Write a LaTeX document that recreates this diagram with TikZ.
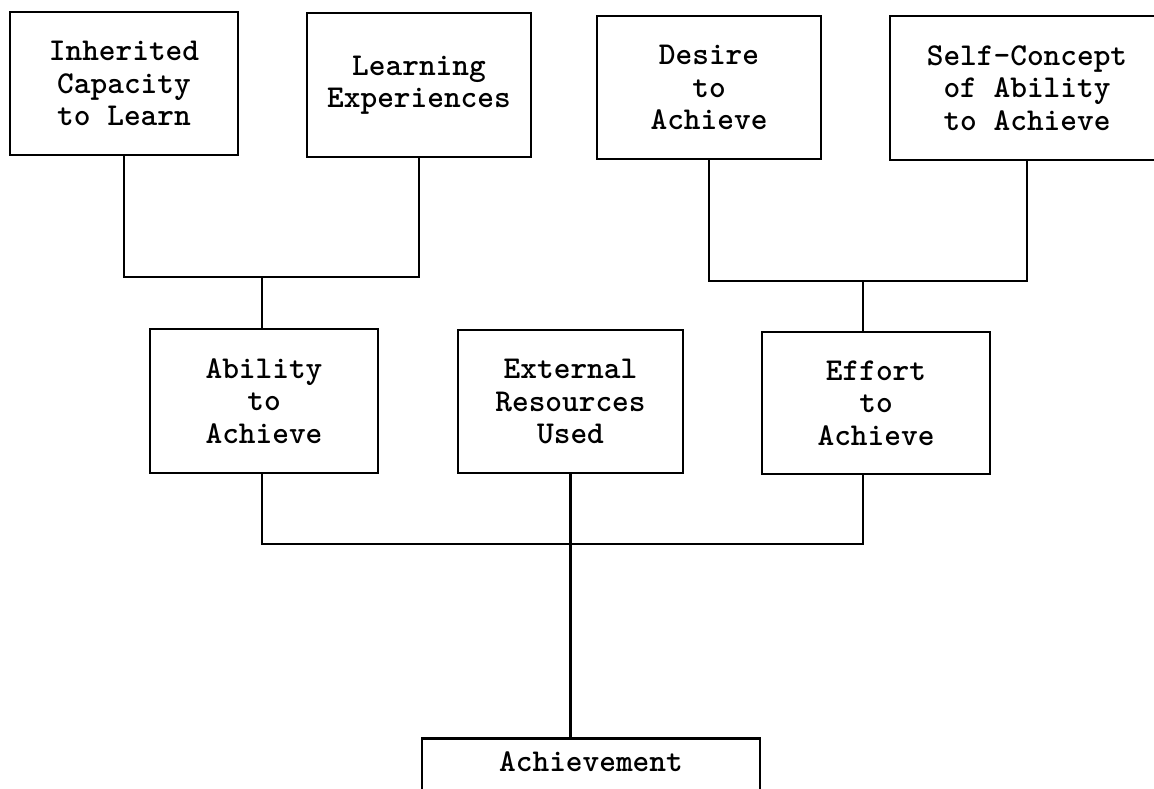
\documentclass[tikz,border=0pt]{standalone}
\usepackage{fontspec}
\begin{document}
\begin{tikzpicture}[x=0.5pt,y=-0.5pt]
	\tikzstyle{every node}+=[inner sep=0pt]
	\tikzstyle{box}=[draw=black, line width=1.3pt, rectangle, align=center, font=\ttfamily\bfseries\fontsize{15.9}{16.2}\selectfont, minimum width=114pt, minimum height=71.5pt]
	\tikzstyle{link}=[black, line width=1.3pt]
	\useasboundingbox (0,0) rectangle (1154,788);
	\clip (0,0) rectangle (1154,788);
	% top row
	\node [box] (inherited) at (124,83.5) {Inherited\\Capacity\\to Learn};
	\node [box, minimum width=112pt, minimum height=72pt] (learning) at (419,85) {Learning\\Experiences};
	\node [box, minimum width=112pt] (desire) at (709,87.5) {Desire\\to\\Achieve};
	\node [box, minimum width=137pt, minimum height=72pt] (selfconcept) at (1027,88) {Self-Concept\\of Ability\\to Achieve};
	% middle row
	\node [box, minimum height=72pt] (ability) at (264,401) {Ability\\to\\Achieve};
	\node [box, minimum width=112.5pt] (external) at (570.5,401.5) {External\\Resources\\Used};
	\node [box, minimum height=71pt] (effort) at (876,403) {Effort\\to\\Achieve};
	% bottom
	\node [box, anchor=north, minimum width=169pt, minimum height=0pt, text height=10pt, text depth=40pt, inner ysep=6.5pt] (achievement) at (591,737) {Achievement};
	% joins
	\coordinate (jleft) at (262,277);
	\coordinate (jright) at (863,281);
	\coordinate (jbottom) at (569,544);
	\draw [link] (inherited.south) |- (jleft) -| (learning.south);
	\draw [link] (jleft) -- (jleft |- ability.north);
	\draw [link] (desire.south) |- (jright) -| (selfconcept.south);
	\draw [link] (jright) -- (jright |- effort.north);
	\draw [link] (jleft |- ability.south) |- (jbottom) -| (jright |- effort.south);
	\draw [link] (external.south) -- (external.south |- achievement.north);
\end{tikzpicture}
\end{document}
